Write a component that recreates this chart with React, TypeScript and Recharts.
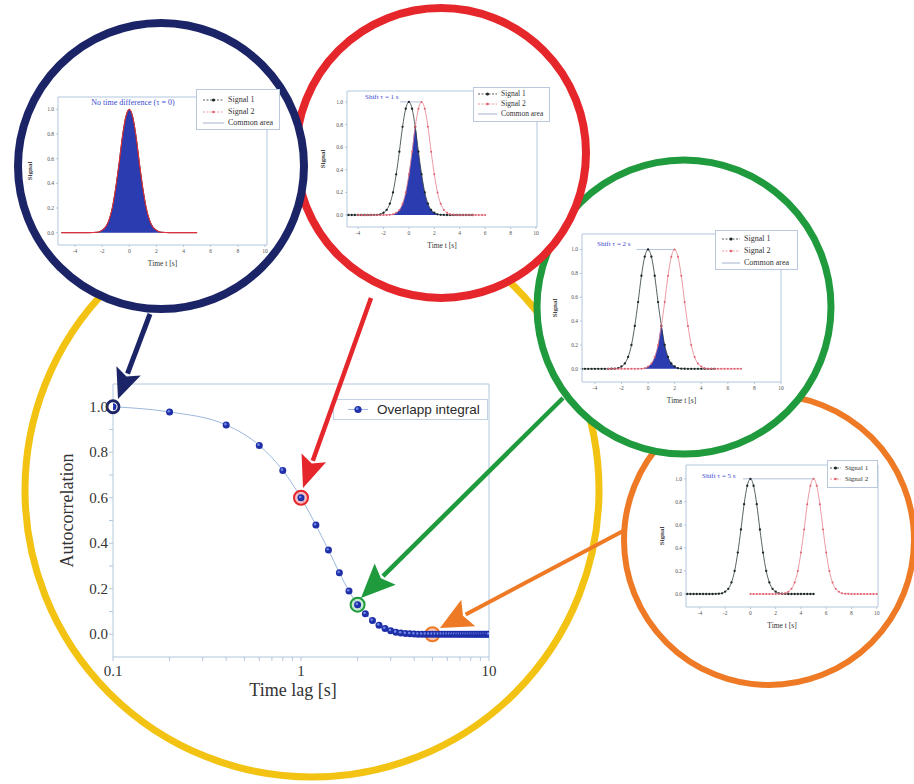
import React from 'react';
import { ComposedChart, Line, Area, XAxis, YAxis, ReferenceDot, ReferenceLine, Legend, Label } from 'recharts';

// ---------- main chart data ----------
const lagValues = [0.1, 0.2, 0.4, 0.6, 0.8, 1.0, 1.2, 1.4, 1.6, 1.8, 2.0, 2.2, 2.4, 2.6, 2.8, 3.0, 3.2, 3.4, 3.6, 3.8, 4.0,
  4.2, 4.4, 4.6, 4.8, 5.0, 5.2, 5.4, 5.6, 5.8, 6.0, 6.2, 6.4, 6.6, 6.8, 7.0, 7.2, 7.4, 7.6, 7.8, 8.0,
  8.2, 8.4, 8.6, 8.8, 9.0, 9.2, 9.4, 9.6, 9.8, 10.0];
const overlapValues = [1.0, 0.977, 0.92, 0.83, 0.72, 0.60, 0.48, 0.37, 0.27, 0.19, 0.13, 0.09, 0.06, 0.04, 0.025, 0.015, 0.009, 0.005, 0.003, 0.002, 0.001,
  0, 0, 0, 0, 0, 0, 0, 0, 0, 0, 0, 0, 0, 0, 0, 0, 0, 0, 0, 0,
  0, 0, 0, 0, 0, 0, 0, 0, 0, 0];
const mainXTicks = [0.1, 0.2, 0.3, 0.4, 0.5, 0.6, 0.7, 0.8, 0.9, 1, 2, 3, 4, 5, 6, 7, 8, 9, 10];
const mainXMajor = [0.1, 1, 10];
const mainXLabels = ['0.1', '1', '10'];
const mainYTicks = [0, 0.1, 0.2, 0.3, 0.4, 0.5, 0.6, 0.7, 0.8, 0.9, 1.0];
const mainYMajor = [0, 0.2, 0.4, 0.6, 0.8, 1.0];
const mainYLabels = ['0.0', '0.2', '0.4', '0.6', '0.8', '1.0'];
const markedLags = [0.1, 1, 2, 5];
const markedValues = [1.0, 0.6, 0.13, 0];
const markColors = ['#1b2466', '#e5262b', '#1f9a3d', '#ee7a26'];
const markFills = ['#ffffff', 'rgba(236,110,120,0.45)', 'rgba(110,200,140,0.4)', 'rgba(240,140,110,0.5)'];

// ---------- inset data ----------
const pulseOffsets = [-5, -4.75, -4.5, -4.25, -4, -3.75, -3.5, -3.25, -3, -2.75, -2.5, -2.25, -2, -1.75, -1.5, -1.25, -1, -0.75, -0.5, -0.25,
  0, 0.25, 0.5, 0.75, 1, 1.25, 1.5, 1.75, 2, 2.25, 2.5, 2.75, 3, 3.25, 3.5, 3.75, 4, 4.25, 4.5, 4.75, 5];
const pulseValues = [0, 0, 0, 0, 0, 0, 0, 0, 0, 0.001, 0.002, 0.006, 0.02, 0.045, 0.1, 0.2, 0.36, 0.56, 0.78, 0.94,
  1, 0.94, 0.78, 0.56, 0.36, 0.2, 0.1, 0.045, 0.02, 0.006, 0.002, 0.001, 0, 0, 0, 0, 0, 0, 0, 0, 0];
const shiftValues = [0, 1, 2, 5];
const insetTitles = ['No time difference (τ = 0)', 'Shift τ = 1 s', 'Shift τ = 2 s', 'Shift τ = 5 s'];
const insetLegendLabels = ['Signal 1', 'Signal 2', 'Common area'];
const insetXTicks = [-4, -2, 0, 2, 4, 6, 8, 10];
const insetYTicks = [0, 0.2, 0.4, 0.6, 0.8, 1.0];

const SERIF = "'Liberation Serif', 'Times New Roman', serif";
const FRAME = '#b3c7de';

function buildRows(shift: number) {
  const m = new Map<string, any>();
  pulseOffsets.forEach((o, i) => {
    const k = o.toFixed(2);
    m.set(k, { ...(m.get(k) || { t: o }), s1: pulseValues[i] });
  });
  pulseOffsets.forEach((o, i) => {
    const t = o + shift;
    const k = t.toFixed(2);
    m.set(k, { ...(m.get(k) || { t }), s2: pulseValues[i] });
  });
  const rows = Array.from(m.values()).sort((a, b) => a.t - b.t);
  rows.forEach((r) => {
    r.common = Math.min(r.s1 ?? 0, r.s2 ?? 0);
    if (r.s1 === undefined) r.s1 = null;
    if (r.s2 === undefined) r.s2 = null;
  });
  return rows;
}

const isIn = (v: number, arr: number[]) => arr.findIndex((a) => Math.abs(a - v) < 1e-9);

const MainXTick = (p: any) => {
  const i = isIn(p.payload.value, mainXMajor);
  if (i < 0) return <g />;
  return (
    <text x={p.x} y={p.y} dy={12} textAnchor="middle" fontFamily={SERIF} fontSize={15} fill="#333">
      {mainXLabels[i]}
    </text>
  );
};
const MainYTick = (p: any) => {
  const i = isIn(p.payload.value, mainYMajor);
  if (i < 0) return <g />;
  return (
    <text x={p.x} y={p.y} dy={5} textAnchor="end" fontFamily={SERIF} fontSize={15} fill="#333">
      {mainYLabels[i]}
    </text>
  );
};

const BlueDot = (p: any) => {
  if (p.cx == null || p.cy == null) return <g key={p.index} />;
  return (
    <g key={p.index}>
      <circle cx={p.cx} cy={p.cy} r={3.5} fill="#1f2fa8" />
      <circle cx={p.cx - 0.8} cy={p.cy - 0.8} r={1.3} fill="#6f86e6" />
    </g>
  );
};

function MainChart() {
  const rows = lagValues.map((lag, i) => ({ lag, val: overlapValues[i] }));
  return (
    <div style={{ position: 'absolute', left: 0, top: 0, width: 914, height: 784 }}>
      <ComposedChart width={914} height={784} data={rows} margin={{ top: 380, left: 63, right: 421, bottom: 87 }}>
        <XAxis xAxisId="b" dataKey="lag" type="number" scale="log" domain={[0.1, 10]} ticks={mainXTicks} interval={0}
          allowDataOverflow tick={MainXTick} tickSize={4} tickMargin={3} height={40} stroke={FRAME}>
          <Label content={(p: any) => {
            const vb = p.viewBox || {};
            return (
              <text x={vb.x + vb.width / 2 - 8} y={vb.y + 39} textAnchor="middle" fontFamily={SERIF} fontSize={18} fill="#333">
                Time lag [s]
              </text>
            );
          }} />
        </XAxis>
        <XAxis xAxisId="t" orientation="top" dataKey="lag" type="number" scale="log" domain={[0.1, 10]} ticks={mainXTicks}
          interval={0} allowDataOverflow tick={false} tickSize={3} height={4} stroke={FRAME} />
        <YAxis yAxisId="l" type="number" domain={[-0.1, 1.1]} ticks={mainYTicks} interval={0} allowDataOverflow
          tick={MainYTick} tickSize={4} tickMargin={1} width={50} stroke={FRAME}>
          <Label content={(p: any) => {
            const vb = p.viewBox || {};
            const cx = vb.x + 4;
            const cy = vb.y + vb.height / 2 - 10;
            return (
              <text x={cx} y={cy} transform={`rotate(-90 ${cx} ${cy})`} textAnchor="middle" dominantBaseline="central"
                fontFamily={SERIF} fontSize={18} fill="#333">
                Autocorrelation
              </text>
            );
          }} />
        </YAxis>
        <YAxis yAxisId="r" orientation="right" type="number" domain={[-0.1, 1.1]} ticks={mainYTicks} interval={0}
          allowDataOverflow tick={false} tickSize={3} width={4} stroke={FRAME} />
        <Line xAxisId="b" yAxisId="l" dataKey="val" type="monotone" stroke="#9bb8de" strokeWidth={1}
          dot={BlueDot} activeDot={false} isAnimationActive={false} />
        {markedLags.map((lag, i) => (
          <ReferenceDot key={lag} xAxisId="b" yAxisId="l" x={lag} y={markedValues[i]} r={i === 0 ? 6 : 7}
            fill={markFills[i]} stroke={markColors[i]} strokeWidth={i === 0 ? 2.8 : 2} ifOverflow="visible" />
        ))}
        <Legend layout="vertical" align="center" verticalAlign="middle"
          wrapperStyle={{ position: 'absolute', left: 333, top: 399, width: 155, height: 21 }}
          content={() => (
            <div style={{ width: 155, height: 21, boxSizing: 'border-box', border: '1px solid #c3d2e4', display: 'flex', alignItems: 'center', background: '#fff' }}>
              <svg width={43} height={19} style={{ flex: 'none' }}>
                <line x1={14} y1={9.5} x2={34} y2={9.5} stroke="#9bb8de" strokeWidth={1} />
                <circle cx={24} cy={9.5} r={3.6} fill="#1f2fa8" />
                <circle cx={23.2} cy={8.7} r={1.4} fill="#6f86e6" />
              </svg>
              <span style={{ fontFamily: "'Liberation Sans', Arial, sans-serif", fontSize: 13.5, color: '#2a2a2a', whiteSpace: 'nowrap' }}>
                Overlapp integral
              </span>
            </div>
          )} />
      </ComposedChart>
    </div>
  );
}

// ---------- insets ----------
const insetLayouts = [
  { l: 58, t: 97, r: 267, b: 245, xDom: [-5.25, 10.15], yDom: [-0.1, 1.1], tx: 133, ty: 103, tAnchor: 'middle', tSize: 8, segFrom: 0,
    lg: { l: 196, t: 89, w: 84, h: 41, rows: [99, 111, 122], symX: 202, textX: 227, font: 8 }, yGap: 28, dots: false },
  { l: 347, t: 91, r: 537, b: 227, xDom: [-4.87, 10.08], yDom: [-0.106, 1.097], tx: 365, ty: 97, tAnchor: 'start', tSize: 7, segFrom: -0.7,
    lg: { l: 473, t: 87, w: 77, h: 35, rows: [93, 103, 113], symX: 477, textX: 500, font: 7.5 }, yGap: 24, dots: true },
  { l: 582, t: 234, r: 781, b: 382, xDom: [-4.97, 10], yDom: [-0.11, 1.13], tx: 597, ty: 244, tAnchor: 'start', tSize: 7, segFrom: -0.85,
    lg: { l: 715, t: 230, w: 83, h: 40, rows: [238, 250, 262], symX: 721, textX: 743, font: 8 }, yGap: 27, dots: true },
  { l: 686, t: 465, r: 878, b: 607, xDom: [-5.1, 10.1], yDom: [-0.113, 1.12], tx: 702, ty: 476, tAnchor: 'start', tSize: 7, segFrom: -0.6,
    lg: { l: 827, t: 460, w: 51, h: 28, rows: [467, 478], symX: 829, textX: 844, font: 7 }, yGap: 24, dots: true },
];

const PADL = 40, PADT = 12, PADR = 14, PADB = 34;

function LegendSymbol({ kind, w }: { kind: number; w: number }) {
  if (kind === 0)
    return (
      <svg width={w} height={8} style={{ flex: 'none' }}>
        <line x1={0} y1={4} x2={w} y2={4} stroke="#333" strokeWidth={0.8} strokeDasharray="2 1.5" />
        <circle cx={w / 2} cy={4} r={1.6} fill="#1b2626" />
      </svg>
    );
  if (kind === 1)
    return (
      <svg width={w} height={8} style={{ flex: 'none' }}>
        <line x1={0} y1={4} x2={w} y2={4} stroke="#e4808c" strokeWidth={0.8} strokeDasharray="2 1.5" />
        <circle cx={w / 2} cy={4} r={1.3} fill="#e06070" />
      </svg>
    );
  return (
    <svg width={w} height={8} style={{ flex: 'none' }}>
      <line x1={0} y1={4} x2={w} y2={4} stroke="#8c9cc0" strokeWidth={0.8} />
    </svg>
  );
}

function Inset({ idx }: { idx: number }) {
  const c: any = insetLayouts[idx];
  const shift = shiftValues[idx];
  const W = c.r - c.l + PADL + PADR;
  const H = c.b - c.t + PADT + PADB;
  const ox = c.l - PADL;
  const oy = c.t - PADT;
  const rows = buildRows(shift);
  const nItems = shift >= 5 ? 2 : 3;
  const lg = c.lg;
  const tickStyle = { fontSize: 5.5, fill: '#555', fontFamily: SERIF };
  return (
    <div style={{ position: 'absolute', left: ox, top: oy, width: W, height: H }}>
      <ComposedChart width={W} height={H} data={rows} margin={{ top: PADT - 1, left: PADL - 12, right: PADR - 1, bottom: PADB - 12 }}>
        <XAxis xAxisId="b" dataKey="t" type="number" domain={c.xDom} ticks={insetXTicks} interval={0} allowDataOverflow
          tick={tickStyle} tickSize={2} tickMargin={2} height={12} stroke={FRAME}>
          <Label content={(p: any) => {
            const vb = p.viewBox || {};
            return (
              <text x={vb.x + vb.width / 2} y={vb.y + 21} textAnchor="middle" fontFamily={SERIF} fontSize={7.5} fill="#333">
                Time t [s]
              </text>
            );
          }} />
        </XAxis>
        <XAxis xAxisId="t" orientation="top" dataKey="t" type="number" domain={c.xDom} ticks={insetXTicks} interval={0}
          allowDataOverflow tick={false} tickSize={2} height={1} stroke={FRAME} />
        <YAxis yAxisId="l" type="number" domain={c.yDom} ticks={insetYTicks} interval={0} allowDataOverflow
          tickFormatter={(v: number) => v.toFixed(1)} tick={tickStyle} tickSize={2} tickMargin={2} width={12} stroke={FRAME}>
          <Label content={(p: any) => {
            const vb = p.viewBox || {};
            const cx = vb.x + vb.width - c.yGap;
            const cy = vb.y + vb.height / 2;
            return (
              <text x={cx} y={cy} transform={`rotate(-90 ${cx} ${cy})`} textAnchor="middle" dominantBaseline="central"
                fontFamily={SERIF} fontSize={7} fontWeight="bold" fill="#444">
                Signal
              </text>
            );
          }} />
        </YAxis>
        <YAxis yAxisId="r" orientation="right" type="number" domain={c.yDom} ticks={insetYTicks} interval={0}
          allowDataOverflow tick={false} tickSize={2} width={1} stroke={FRAME} />
        <Area xAxisId="b" yAxisId="l" dataKey="common" type="monotone" fill="#2b3bb0" fillOpacity={1} stroke="none"
          baseValue={0} isAnimationActive={false} activeDot={false} />
        {shift > 0 && (
          <ReferenceLine xAxisId="b" yAxisId="l" segment={[{ x: c.segFrom, y: 1 }, { x: shift, y: 1 }]} stroke="#9fb4d6" strokeWidth={0.8} />
        )}
        <Line xAxisId="b" yAxisId="l" dataKey="s1" type="monotone" stroke={c.dots ? '#2d3a3a' : '#222'} strokeWidth={c.dots ? 0.8 : 1}
          dot={c.dots ? { r: 1.15, fill: '#1b2626', stroke: 'none' } : false} activeDot={false} isAnimationActive={false} />
        <Line xAxisId="b" yAxisId="l" dataKey="s2" type="monotone" stroke={c.dots ? '#e4808c' : '#e03040'} strokeWidth={c.dots ? 0.8 : 1.1}
          dot={c.dots ? { r: 1.0, fill: '#e06070', stroke: 'none' } : false} activeDot={false} isAnimationActive={false} />
        <Legend layout="vertical" align="center" verticalAlign="middle"
          wrapperStyle={{ position: 'absolute', left: lg.l - ox, top: lg.t - oy, width: lg.w, height: lg.h }}
          content={() => (
            <div style={{ position: 'relative', width: lg.w, height: lg.h, boxSizing: 'border-box', border: '1px solid #b9c8dc', background: '#fff' }}>
              {insetLegendLabels.slice(0, nItems).map((lab, i) => (
                <div key={lab} style={{ position: 'absolute', left: lg.symX - lg.l, top: lg.rows[i] - lg.t - 5, height: 10, display: 'flex', alignItems: 'center', whiteSpace: 'nowrap' }}>
                  <LegendSymbol kind={i} w={lg.textX - lg.symX - 4} />
                  <span style={{ marginLeft: 4, fontFamily: SERIF, fontSize: lg.font, color: '#333', lineHeight: 1 }}>{lab}</span>
                </div>
              ))}
            </div>
          )} />
      </ComposedChart>
      <div style={{
        position: 'absolute', left: c.tx - ox, top: c.ty - oy, transform: c.tAnchor === 'middle' ? 'translate(-50%, -50%)' : 'translate(0, -50%)',
        fontFamily: SERIF, fontSize: c.tSize, color: '#3b4bd0', whiteSpace: 'nowrap', lineHeight: 1,
      }}>
        {insetTitles[idx]}
      </div>
    </div>
  );
}

function Ring({ cx, cy, r, color, w }: any) {
  return (
    <svg width={914} height={784} style={{ position: 'absolute', left: 0, top: 0 }}>
      <circle cx={cx} cy={cy} r={r} fill="#fff" stroke={color} strokeWidth={w} />
    </svg>
  );
}

function Arrow({ x1, y1, x2, y2, color, w, hl, hw }: any) {
  const dx = x2 - x1, dy = y2 - y1;
  const len = Math.hypot(dx, dy);
  const ux = dx / len, uy = dy / len;
  const bx = x2 - ux * hl, by = y2 - uy * hl;
  const px = -uy, py = ux;
  return (
    <g>
      <line x1={x1} y1={y1} x2={bx + ux * 3} y2={by + uy * 3} stroke={color} strokeWidth={w} />
      <polygon points={`${x2},${y2} ${bx + (px * hw) / 2},${by + (py * hw) / 2} ${bx + ux * 6},${by + uy * 6} ${bx - (px * hw) / 2},${by - (py * hw) / 2}`} fill={color} />
    </g>
  );
}

export default function App() {
  return (
    <div style={{ position: 'absolute', left: 0, top: 0, width: 914, height: 784, background: '#fff', overflow: 'hidden' }}>
      <svg width={914} height={784} style={{ position: 'absolute', left: 0, top: 0 }}>
        <circle cx={312} cy={490} r={287} fill="none" stroke="#f3c313" strokeWidth={7} />
      </svg>
      <MainChart />
      <Ring cx={769} cy={540} r={145} color="#ee7a26" w={6} />
      <Inset idx={3} />
      <Ring cx={684} cy={307} r={147} color="#1f9a3d" w={7} />
      <Inset idx={2} />
      <Ring cx={441} cy={153} r={145} color="#e5262b" w={8} />
      <Inset idx={1} />
      <Ring cx={161} cy={166} r={143} color="#1b2466" w={8} />
      <Inset idx={0} />
      <svg width={914} height={784} style={{ position: 'absolute', left: 0, top: 0 }}>
        <Arrow x1={150} y1={314} x2={118} y2={399} color="#1b2466" w={5} hl={30} hw={26} />
        <Arrow x1={371} y1={298} x2={303} y2={488} color="#e5262b" w={4.5} hl={32} hw={26} />
        <Arrow x1={563} y1={398} x2={361} y2={598} color="#1f9a3d" w={4.5} hl={34} hw={30} />
        <Arrow x1={625} y1={530} x2={440} y2={628} color="#ee7a26" w={4} hl={32} hw={30} />
      </svg>
    </div>
  );
}
